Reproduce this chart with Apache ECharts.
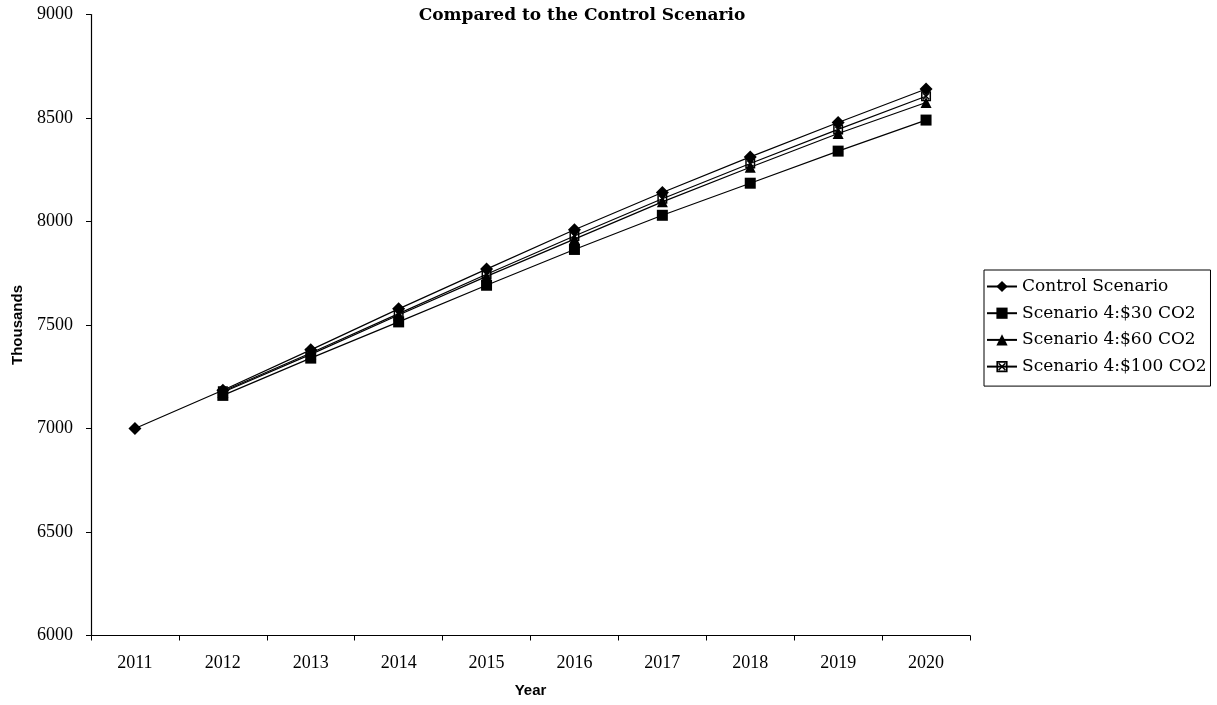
<!DOCTYPE html>
<html>
<head>
<meta charset="utf-8">
<script src="https://cdn.jsdelivr.net/npm/echarts@6/dist/echarts.min.js"></script>
<style>
  html, body { margin: 0; padding: 0; background: #fff; }
  #chart { width: 1217px; height: 705px; }
</style>
</head>
<body>
<div id="chart"></div>
<script>
// Years on the category axis
const years = ['2011', '2012', '2013', '2014', '2015', '2016', '2017', '2018', '2019', '2020'];

// Series values, thousands
const controlScenario = [7000, 7185, 7380, 7578, 7770, 7960, 8140, 8312, 8478, 8640];
const scenario30 = [null, 7160, 7340, 7515, 7692, 7865, 8030, 8185, 8340, 8490];
const scenario60 = [null, 7175, 7358, 7548, 7735, 7915, 8095, 8262, 8425, 8575];
const scenario100 = [null, 7180, 7365, 7555, 7745, 7930, 8110, 8280, 8445, 8605];

// Y-axis ticks
const yTicks = { min: 6000, max: 9000, step: 500 };

const wideSerif = '"DejaVu Serif", "Liberation Serif", serif';
const serif = '"Liberation Serif", "DejaVu Serif", serif';
const sans = '"Liberation Sans", Arial, sans-serif';

// Square outline with an X inside
const boxX = 'path://M0 0 L10 0 L10 10 L0 10 Z M1.5 1.5 L1.5 8.5 L8.5 8.5 L8.5 1.5 Z ' +
  'M1.5 2.5 L2.5 1.5 L8.5 7.5 L7.5 8.5 Z M7.5 1.5 L8.5 2.5 L2.5 8.5 L1.5 7.5 Z';

function lineSeries(name, data, symbol, size) {
  return {
    name: name,
    type: 'line',
    data: data,
    symbol: symbol,
    symbolSize: size,
    showAllSymbol: true,
    connectNulls: false,
    lineStyle: { color: '#000', width: 1.2 },
    itemStyle: { color: '#000', borderWidth: 0 },
    emphasis: { disabled: true },
    animation: false
  };
}

const chart = echarts.init(document.getElementById('chart'), null, { renderer: 'canvas' });
chart.setOption({
  backgroundColor: '#fff',
  animation: false,
  title: {
    text: 'Compared to the Control Scenario',
    left: 577,
    top: 2,
    textAlign: 'center',
    textStyle: { fontFamily: wideSerif, fontWeight: 'bold', fontSize: 17, color: '#000' }
  },
  grid: { left: 91, right: 247, top: 14.5, bottom: 69.5, containLabel: false, outerBoundsMode: 'none' },
  legend: {
    orient: 'vertical',
    left: 984,
    top: 270,
    padding: [8, 4, 11, 2],
    itemWidth: 30,
    itemHeight: 14,
    itemGap: 9.7,
    borderColor: '#000',
    borderWidth: 1,
    textStyle: { fontFamily: wideSerif, fontSize: 17, color: '#000' },
    data: ['Control Scenario', 'Scenario 4:$30 CO2', 'Scenario 4:$60 CO2', 'Scenario 4:$100 CO2']
  },
  xAxis: {
    type: 'category',
    data: years,
    boundaryGap: true,
    name: 'Year',
    nameLocation: 'middle',
    nameGap: 48,
    nameTextStyle: { fontFamily: sans, fontWeight: 'bold', fontSize: 15, color: '#000' },
    axisLine: { lineStyle: { color: '#000', width: 1.2 } },
    axisTick: { show: true, alignWithLabel: false, length: 5, lineStyle: { color: '#000' } },
    axisLabel: { fontFamily: serif, fontSize: 18, color: '#000', margin: 19 },
    splitLine: { show: false }
  },
  yAxis: {
    type: 'value',
    min: yTicks.min,
    max: yTicks.max,
    interval: yTicks.step,
    name: 'Thousands',
    nameLocation: 'middle',
    nameGap: 66,
    nameRotate: 90,
    nameTextStyle: { fontFamily: sans, fontWeight: 'bold', fontSize: 15, color: '#000' },
    axisLine: { show: true, lineStyle: { color: '#000', width: 1.2 } },
    axisTick: { show: true, length: 5, lineStyle: { color: '#000' } },
    axisLabel: { fontFamily: serif, fontSize: 18, color: '#000', margin: 18, formatter: v => String(v) },
    splitLine: { show: false }
  },
  series: [
    lineSeries('Control Scenario', controlScenario, 'diamond', 13),
    lineSeries('Scenario 4:$30 CO2', scenario30, 'rect', 11),
    lineSeries('Scenario 4:$60 CO2', scenario60, 'triangle', 11),
    lineSeries('Scenario 4:$100 CO2', scenario100, boxX, 10)
  ]
});
</script>
</body>
</html>
